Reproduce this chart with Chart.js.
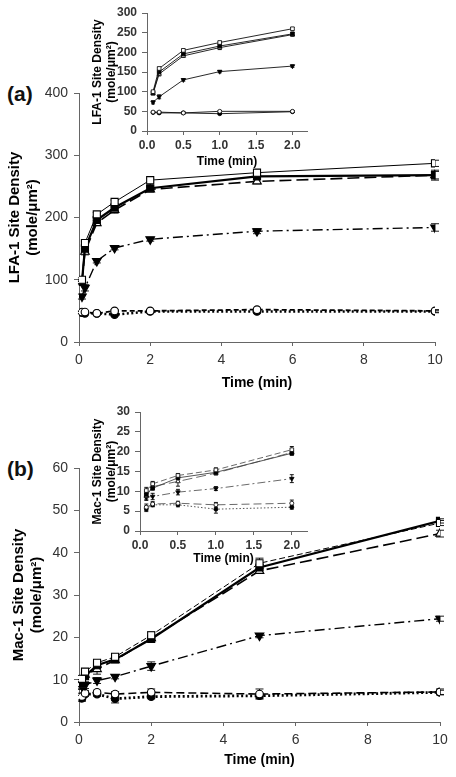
<!DOCTYPE html>
<html>
<head>
<meta charset="utf-8">
<script src="https://cdn.jsdelivr.net/npm/chart.js@4.4.0/dist/chart.umd.min.js"></script>
<style>
body{margin:0;background:#fff;width:456px;height:777px;position:relative;overflow:hidden;font-family:"Liberation Sans",Arial,sans-serif}
canvas{position:absolute;left:0}
.tag{position:absolute;left:7px;font-weight:bold;font-size:21px;color:#111}
</style>
</head>
<body>
<div class="tag" style="top:82px">(a)</div>
<div class="tag" style="top:457px">(b)</div>
<canvas id="mainA" width="456" height="392" style="top:0"></canvas>
<canvas id="insetA" width="320" height="175" style="top:0"></canvas>
<canvas id="mainB" width="456" height="377" style="top:400px"></canvas>
<canvas id="insetB" width="320" height="195" style="top:380px"></canvas>
<script>
// time points (min)
const time = [0.083, 0.167, 0.5, 1, 2, 5, 10];
const xTicksMain = [0, 2, 4, 6, 8, 10];
const xTicksInset = [0, 0.5, 1, 1.5, 2];

// (a) LFA-1 site density
const lfaOpenSq   = [100, 159, 205, 225, 260, 272, 287];
const lfaFillSq   = [97, 150, 196, 216, 247, 266, 268];
const lfaOpenTri  = [95, 145, 191, 212, 245, 258, 268];
const lfaDownTri  = [73, 87, 130, 151, 165, 178, 184];
const lfaOpenCirc = [48, 48, 46, 50, 50, 52, 50];
const lfaFillCirc = [47, 46, 46, 44, 49, 49, 49];
const lfaErr = [
  [3, 3, 3, 3, 3, 3, 5],
  [3, 6, 4, 4, 4, 5, 8],
  [3, 5, 4, 5, 4, 4, 6],
  [4, 5, 3, 3, 3, 4, 6],
  [2, 2, 2, 2, 2, 2, 2],
  [2, 2, 2, 2, 2, 2, 2]
];

// (b) Mac-1 site density
const macOpenSq   = [10.2, 11.9, 14.0, 15.4, 20.5, 37.5, 47.0];
const macFillSq   = [9.2, 10.8, 13.4, 14.8, 19.6, 36.5, 47.5];
const macOpenTri  = [8.8, 11.2, 12.5, 14.6, 19.8, 35.7, 44.5];
const macDownTri  = [8.5, 8.7, 9.8, 10.7, 13.2, 20.4, 24.4];
const macOpenCirc = [6.0, 6.8, 7.0, 6.6, 7.0, 6.6, 7.1];
const macFillCirc = [5.6, 6.6, 6.6, 5.5, 6.0, 6.2, 7.0];
const macErr = [
  [0.8, 0.6, 0.5, 0.5, 0.8, 1.2, 0.6],
  [0.8, 0.5, 0.5, 0.5, 0.5, 0.6, 0.5],
  [0.8, 0.6, 1.2, 0.5, 0.5, 0.6, 0.8],
  [0.8, 0.8, 0.7, 0.5, 1.0, 0.5, 0.6],
  [0.8, 0.6, 0.5, 0.6, 0.8, 1.2, 0.7],
  [0.7, 0.5, 0.5, 1.0, 0.5, 0.6, 0.5]
];

const axisColor = '#666';
const tickColor = '#333';

// marker + line look per series (same order as the arrays above)
const markers = [
  {pointStyle: 'rect', fill: '#fff', rot: 0},
  {pointStyle: 'rect', fill: '#000', rot: 0},
  {pointStyle: 'triangle', fill: '#fff', rot: 0},
  {pointStyle: 'triangle', fill: '#000', rot: 180},
  {pointStyle: 'circle', fill: '#fff', rot: 0},
  {pointStyle: 'circle', fill: '#000', rot: 0}
];
const linesA = [
  {w: 1, dash: []}, {w: 2.2, dash: []}, {w: 1.6, dash: [12, 5]},
  {w: 1.4, dash: [10, 4, 2, 4]}, {w: 1.8, dash: [5, 3]}, {w: 2.5, dash: [2, 2.5]}
];
const linesB = [
  {w: 1, dash: [6, 3]}, {w: 2.2, dash: []}, {w: 1.6, dash: [12, 5]},
  {w: 1.4, dash: [10, 4, 2, 4]}, {w: 1.6, dash: [8, 4]}, {w: 2.8, dash: [2, 2.5]}
];
const linesInsetA = linesA.map(() => ({w: 0.9, dash: []}));
const linesInsetB = [
  {w: 0.8, dash: [6, 3]}, {w: 0.9, dash: []}, {w: 0.8, dash: [10, 4]},
  {w: 0.8, dash: [8, 3, 2, 3]}, {w: 0.8, dash: [8, 4]}, {w: 0.9, dash: [1.5, 2]}
];

function buildSets(series, errs, n, lines, big, color) {
  return series.map((vals, i) => {
    const m = markers[i];
    const r = big ? (m.pointStyle === 'circle' ? 3.8 : 5) : (m.pointStyle === 'circle' ? 2 : 2.6);
    return {
      data: time.slice(0, n).map((t, j) => ({x: t, y: vals[j]})),
      errs: errs[i].slice(0, n),
      borderColor: color,
      borderWidth: lines[i].w,
      borderDash: lines[i].dash,
      pointStyle: m.pointStyle,
      pointRotation: m.rot,
      pointRadius: r,
      pointBackgroundColor: m.fill,
      pointBorderColor: '#000',
      pointBorderWidth: big ? 1.1 : 0.8,
      tension: 0,
      fill: false
    };
  });
}

const errBars = {
  id: 'errBars',
  beforeDatasetsDraw(chart, args, opts) {
    const {ctx, scales: {x, y}} = chart;
    ctx.save();
    ctx.strokeStyle = '#000';
    ctx.lineWidth = 0.9;
    ctx.setLineDash([]);
    chart.data.datasets.forEach(ds => {
      ds.data.forEach((p, j) => {
        const e = ds.errs[j];
        const px = x.getPixelForValue(p.x);
        const top = y.getPixelForValue(p.y + e);
        const bot = y.getPixelForValue(p.y - e);
        const c = opts.cap || 3;
        ctx.beginPath();
        ctx.moveTo(px, top); ctx.lineTo(px, bot);
        ctx.moveTo(px - c, top); ctx.lineTo(px + c, top);
        ctx.moveTo(px - c, bot); ctx.lineTo(px + c, bot);
        ctx.stroke();
      });
    });
    ctx.restore();
  }
};

function makeChart(id, sets, o) {
  return new Chart(document.getElementById(id), {
    type: 'line',
    data: {datasets: sets},
    plugins: [errBars],
    options: {
      responsive: false,
      animation: false,
      layout: {padding: {top: o.padTop, right: o.padRight, left: 0, bottom: 0}},
      plugins: {legend: {display: false}, tooltip: {enabled: false}, errBars: {cap: o.cap}},
      scales: {
        x: {
          type: 'linear', min: 0, max: o.xMax,
          afterBuildTicks: s => { s.ticks = o.xTicks.map(v => ({value: v})); },
          afterFit: s => { s.height = o.xH; },
          grid: {drawOnChartArea: false, tickLength: 4, color: axisColor},
          border: {color: axisColor},
          ticks: {font: o.tickFont, color: tickColor, padding: o.xTickPad, maxRotation: 0,
                  callback: v => o.inset ? v.toFixed(1) : String(v)},
          title: {display: true, text: 'Time (min)', font: o.titleFont, color: '#000',
                  padding: {top: 0, bottom: o.xTitlePad}}
        },
        y: {
          min: 0, max: o.yMax,
          ticks: {stepSize: o.yStep, font: o.tickFont, color: tickColor, padding: o.yTickPad},
          afterFit: s => { s.width = o.yW; },
          grid: {drawOnChartArea: false, tickLength: 5, color: axisColor},
          border: {color: axisColor},
          title: {display: true, text: o.yTitle, font: o.yTitleFont, color: '#000',
                  padding: {top: o.yTitlePad, bottom: 0}}
        }
      }
    }
  });
}

const mainTick = {family: 'Liberation Sans', size: 14};
const mainTitle = {family: 'Liberation Sans', size: 14, weight: 'bold'};
const mainYTitle = {family: 'Liberation Sans', size: 15, weight: 'bold'};
const insetTick = {family: 'Liberation Sans', size: 12, weight: 'bold'};
const insetTitle = {family: 'Liberation Sans', size: 12, weight: 'bold'};

makeChart('mainA',
  buildSets([lfaOpenSq, lfaFillSq, lfaOpenTri, lfaDownTri, lfaOpenCirc, lfaFillCirc], lfaErr, 7, linesA, true, '#000'),
  {padTop: 93, padRight: 21, xMax: 10, xTicks: xTicksMain, xH: 50, xTickPad: 6, xTitlePad: 0,
   yMax: 400, yStep: 100, yW: 79, yTickPad: 6, yTitle: ['LFA-1 Site Density', '(mole/\u03bcm\u00b2)'],
   yTitlePad: 6, tickFont: mainTick, titleFont: mainTitle, yTitleFont: mainYTitle, cap: 4});

makeChart('mainB',
  buildSets([macOpenSq, macFillSq, macOpenTri, macDownTri, macOpenCirc, macFillCirc], macErr, 7, linesB, true, '#000'),
  {padTop: 68, padRight: 16, xMax: 10, xTicks: xTicksMain, xH: 55, xTickPad: 6, xTitlePad: 8,
   yMax: 60, yStep: 10, yW: 79, yTickPad: 6, yTitle: ['Mac-1 Site Density', '(mole/\u03bcm\u00b2)'],
   yTitlePad: 10, tickFont: mainTick, titleFont: mainTitle, yTitleFont: mainYTitle, cap: 4});

makeChart('insetA',
  buildSets([lfaOpenSq, lfaFillSq, lfaOpenTri, lfaDownTri, lfaOpenCirc, lfaFillCirc], lfaErr, 5, linesInsetA, false, '#111'),
  {padTop: 13, padRight: 13, xMax: 2.2, xTicks: xTicksInset, xH: 44, xTickPad: 3, xTitlePad: 6, inset: true,
   yMax: 300, yStep: 50, yW: 147, yTickPad: 5, yTitle: ['LFA-1 Site Density', '(mole/\u03bcm\u00b2)'],
   yTitlePad: 90, tickFont: insetTick, titleFont: insetTitle, yTitleFont: insetTitle, cap: 2});

makeChart('insetB',
  buildSets([macOpenSq, macFillSq, macOpenTri, macDownTri, macOpenCirc, macFillCirc], macErr, 5, linesInsetB, false, '#444'),
  {padTop: 32, padRight: 13, xMax: 2.2, xTicks: xTicksInset, xH: 44, xTickPad: 3, xTitlePad: 9, inset: true,
   yMax: 30, yStep: 5, yW: 140, yTickPad: 5, yTitle: ['Mac-1 Site Density', '(mole/\u03bcm\u00b2)'],
   yTitlePad: 90, tickFont: insetTick, titleFont: insetTitle, yTitleFont: insetTitle, cap: 2});
</script>
</body>
</html>
